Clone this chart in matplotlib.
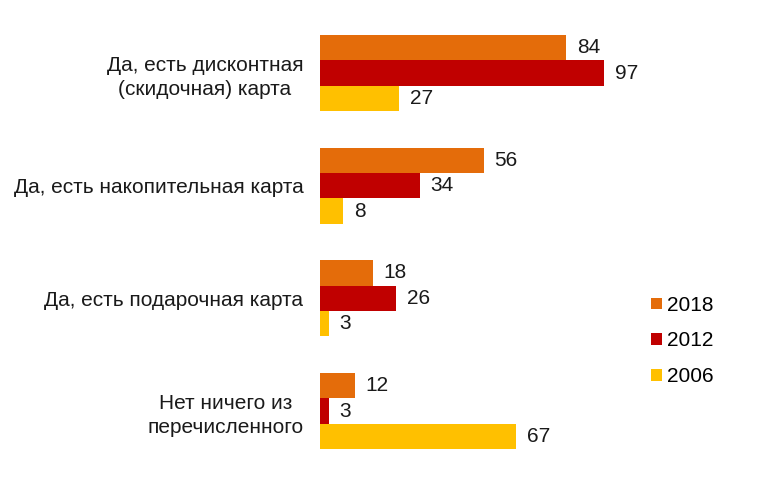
import matplotlib
matplotlib.use("Agg")
import matplotlib.pyplot as plt
from matplotlib.patches import Patch
import numpy as np

# data
categories = [
    "Да, есть дисконтная\n(скидочная) карта",
    "Да, есть накопительная карта",
    "Да, есть подарочная карта",
    "Нет ничего из\nперечисленного",
]
years = ["2018", "2012", "2006"]
values_2018 = [84, 56, 18, 12]
values_2012 = [97, 34, 26, 3]
values_2006 = [27, 8, 3, 67]
colors = ["#E46C0A", "#C00000", "#FFC000"]

plt.rcParams["font.family"] = ["Liberation Sans", "DejaVu Sans"]
FS = 15

fig = plt.figure(figsize=(7.7, 4.87), dpi=100)
ax = fig.add_axes([320 / 770, 1 - 478.6 / 487, 293 / 770, 473.2 / 487])

y = np.arange(len(categories))
h = 0.225
series = [values_2018, values_2012, values_2006]
for i, (vals, col) in enumerate(zip(series, colors)):
    pos = y + (i - 1) * h
    ax.barh(pos, vals, height=h, color=col, edgecolor="none")
    for p, v in zip(pos, vals):
        ax.text(v + 3.6, p, str(v), va="center", ha="left", fontsize=FS, color="#1a1a1a")

ax.set_xlim(0, 100)
ax.set_ylim(3.6, -0.6)
ax.set_yticks(y)
ax.set_yticklabels(categories, fontsize=FS, multialignment="center", color="#1a1a1a",
                   linespacing=1.3)
ax.tick_params(axis="y", length=0, pad=12)
ax.set_xticks([])
for s in ax.spines.values():
    s.set_visible(False)

handles = [Patch(facecolor=c, edgecolor="none") for c in colors]
fig.legend(handles, years, loc="center left", bbox_to_anchor=(641 / 770, 1 - 341 / 487),
           frameon=False, fontsize=FS, handlelength=0.5, handleheight=0.5,
           handletextpad=0.25, labelspacing=0.8, borderpad=0)

fig.savefig("out.png", dpi=100)
